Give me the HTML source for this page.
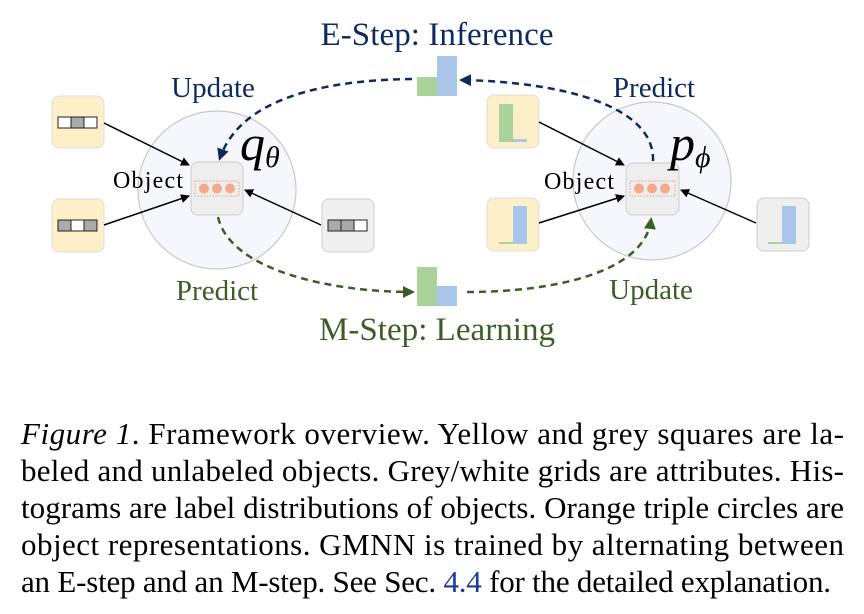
<!DOCTYPE html>
<html><head><meta charset="utf-8"><style>
html,body{margin:0;padding:0;background:#fff;}
svg{display:block;font-family:"Liberation Serif",serif;}
</style></head><body>
<svg width="864" height="614" viewBox="0 0 864 614" xmlns="http://www.w3.org/2000/svg">
<defs>
<marker id="ab" markerWidth="12" markerHeight="12" refX="9" refY="6" orient="auto" markerUnits="userSpaceOnUse"><path d="M0,0 L12,6 L0,12 z" fill="#0d2a5e"/></marker>
<marker id="ag" markerWidth="12" markerHeight="12" refX="9" refY="6" orient="auto" markerUnits="userSpaceOnUse"><path d="M0,0 L12,6 L0,12 z" fill="#3c5e26"/></marker>
<marker id="ak" markerWidth="9" markerHeight="9" refX="8" refY="4.5" orient="auto" markerUnits="userSpaceOnUse"><path d="M0,0 L9,4.5 L0,9 z" fill="#000"/></marker>
</defs>

<circle cx="217" cy="190" r="79" fill="#f5f7fc" stroke="#c8c8c8" stroke-width="1.2"/>
<circle cx="652" cy="181" r="79" fill="#f5f7fc" stroke="#c8c8c8" stroke-width="1.2"/>

<rect x="52" y="96" width="52" height="52" rx="7" fill="#fdf0c8" stroke="#ddd"/>
<rect x="58" y="117" width="13" height="11" fill="#fff" stroke="#222"/><rect x="71" y="117" width="13" height="11" fill="#aaa" stroke="#222"/><rect x="84" y="117" width="13" height="11" fill="#fff" stroke="#222"/>
<rect x="52" y="199" width="52" height="53" rx="7" fill="#fdf0c8" stroke="#ddd"/>
<rect x="58" y="220" width="13" height="11" fill="#aaa" stroke="#222"/><rect x="71" y="220" width="13" height="11" fill="#fff" stroke="#222"/><rect x="84" y="220" width="13" height="11" fill="#aaa" stroke="#222"/>
<rect x="322" y="199" width="52" height="53" rx="7" fill="#efefef" stroke="#ccc"/>
<rect x="328" y="220" width="13" height="11" fill="#aaa" stroke="#222"/><rect x="341" y="220" width="13" height="11" fill="#aaa" stroke="#222"/><rect x="354" y="220" width="13" height="11" fill="#fff" stroke="#222"/>

<rect x="191" y="162" width="52" height="53" rx="7" fill="#eeeeee" stroke="#ccc"/>
<rect x="195" y="181" width="44" height="15" fill="none" stroke="#f0a080" stroke-dasharray="1.5,1.5"/>
<circle cx="204" cy="188.5" r="5" fill="#f4a98c"/><circle cx="217" cy="188.5" r="5" fill="#f4a98c"/><circle cx="230" cy="188.5" r="5" fill="#f4a98c"/>

<line x1="104" y1="123" x2="189" y2="165" stroke="#000" stroke-width="1.5" marker-end="url(#ak)"/>
<line x1="104" y1="225" x2="189" y2="196" stroke="#000" stroke-width="1.5" marker-end="url(#ak)"/>
<line x1="321" y1="225" x2="245" y2="190" stroke="#000" stroke-width="1.5" marker-end="url(#ak)"/>

<rect x="487" y="95" width="52" height="53" rx="7" fill="#fdf0c8" stroke="#ddd"/>
<rect x="499" y="104" width="14" height="38" fill="#a9d39a"/><rect x="513" y="139" width="14" height="3" fill="#a9c6ea"/>
<rect x="487" y="198" width="52" height="53" rx="7" fill="#fdf0c8" stroke="#ddd"/>
<rect x="499" y="242" width="14" height="2" fill="#a9d39a"/><rect x="513" y="206" width="14" height="38" fill="#a9c6ea"/>
<rect x="757" y="198" width="52" height="53" rx="7" fill="#efefef" stroke="#ccc"/>
<rect x="768" y="242" width="14" height="2" fill="#a9d39a"/><rect x="782" y="206" width="14" height="38" fill="#a9c6ea"/>

<rect x="626" y="163" width="53" height="52" rx="7" fill="#eeeeee" stroke="#ccc"/>
<rect x="630" y="181" width="45" height="15" fill="none" stroke="#f0a080" stroke-dasharray="1.5,1.5"/>
<circle cx="639" cy="188.5" r="5" fill="#f4a98c"/><circle cx="652" cy="188.5" r="5" fill="#f4a98c"/><circle cx="665" cy="188.5" r="5" fill="#f4a98c"/>

<line x1="539" y1="122" x2="624" y2="165" stroke="#000" stroke-width="1.5" marker-end="url(#ak)"/>
<line x1="539" y1="223" x2="624" y2="196" stroke="#000" stroke-width="1.5" marker-end="url(#ak)"/>
<line x1="756" y1="223" x2="681" y2="190" stroke="#000" stroke-width="1.5" marker-end="url(#ak)"/>

<rect x="417" y="77" width="20" height="19" fill="#a9d39a"/><rect x="437" y="56" width="20" height="40" fill="#a9c6ea"/>
<rect x="417" y="267" width="20" height="39" fill="#a9d39a"/><rect x="437" y="286" width="20" height="20" fill="#a9c6ea"/>

<path d="M412,79 C320,80 240,100 220,158" fill="none" stroke="#0d2a5e" stroke-width="2.5" stroke-dasharray="7,5" marker-end="url(#ab)"/>
<path d="M218,217 C230,270 330,292 412,292" fill="none" stroke="#3c5e26" stroke-width="2.5" stroke-dasharray="7,5" marker-end="url(#ag)"/>
<path d="M653,161 C655,105 560,82 462,80" fill="none" stroke="#0d2a5e" stroke-width="2.5" stroke-dasharray="7,5" marker-end="url(#ab)"/>
<path d="M467,292 C560,292 645,270 651,220" fill="none" stroke="#3c5e26" stroke-width="2.5" stroke-dasharray="7,5" marker-end="url(#ag)"/>

<g font-size="33">
<text x="437" y="45" text-anchor="middle" fill="#0d2a5e" textLength="233">E-Step: Inference</text>
<text x="437" y="340" text-anchor="middle" fill="#3c5e26" textLength="236">M-Step: Learning</text>
</g>
<g font-size="29">
<text x="213" y="97" text-anchor="middle" fill="#0d2a5e">Update</text>
<text x="217" y="300" text-anchor="middle" fill="#3c5e26">Predict</text>
<text x="654" y="97" text-anchor="middle" fill="#0d2a5e">Predict</text>
<text x="651" y="299" text-anchor="middle" fill="#3c5e26">Update</text>
</g>
<text x="148" y="188" text-anchor="middle" font-size="24" textLength="70">Object</text>
<text x="579" y="189" text-anchor="middle" font-size="24" textLength="70">Object</text>
<text x="240" y="160" font-size="50" font-style="italic">q<tspan font-size="30" dy="7">θ</tspan></text>
<text x="670" y="160" font-size="50" font-style="italic">p<tspan font-size="30" dy="7">ϕ</tspan></text>

<g font-size="31" fill="#000">
<text x="21" y="444" textLength="823" lengthAdjust="spacing"><tspan font-style="italic">Figure 1</tspan>. Framework overview.  Yellow and grey squares are la-</text>
<text x="21" y="481" textLength="823" lengthAdjust="spacing">beled and unlabeled objects. Grey/white grids are attributes. His-</text>
<text x="21" y="518" textLength="823" lengthAdjust="spacing">tograms are label distributions of objects. Orange triple circles are</text>
<text x="21" y="555" textLength="823" lengthAdjust="spacing">object representations. GMNN is trained by alternating between</text>
<text x="21" y="592" textLength="810" lengthAdjust="spacing">an E-step and an M-step. See Sec. <tspan fill="#1a3aa0">4.4</tspan> for the detailed explanation.</text>
</g>
</svg>
</body></html>
